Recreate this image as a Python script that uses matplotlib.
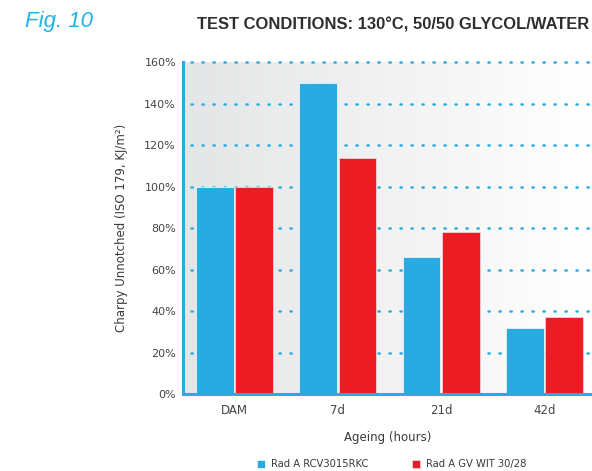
"""Charpy unnotched retention after ageing in 50/50 glycol/water at 130°C."""

import numpy as np
import matplotlib
matplotlib.use("Agg")
import matplotlib.pyplot as plt
from matplotlib.colors import LinearSegmentedColormap

# Data
categories = ["DAM", "7d", "21d", "42d"]
rcv3015rkc = [100, 150, 66, 32]
gv_wit_30_28 = [100, 114, 78, 37]
series_names = ["Rad A RCV3015RKC", "Rad A GV WIT 30/28"]
y_ticks = [0, 20, 40, 60, 80, 100, 120, 140, 160]

BLUE = "#29abe2"
RED = "#ed1c24"
TEXT = "#3a3a3a"
HEAD = ["Liberation Sans", "DejaVu Sans"]

fig = plt.figure(figsize=(5.92, 4.71), dpi=100)
ax = fig.add_axes([0.309, 0.1635, 0.691, 0.7045])

# gradient background: light grey on the left fading to white
bg = LinearSegmentedColormap.from_list("bg", ["#e4e5e6", "#ffffff"])
ax.imshow(np.linspace(0, 1, 256).reshape(1, -1), cmap=bg, aspect="auto",
          extent=(0, 1, 0, 1), transform=ax.transAxes, zorder=0)

x = np.arange(len(categories))
w = 0.365
ax.bar(x - 0.19, rcv3015rkc, w, color=BLUE, edgecolor="#e8f4fa", linewidth=0.6,
       zorder=3, label=series_names[0])
ax.bar(x + 0.19, gv_wit_30_28, w, color=RED, edgecolor="#f6d0d2", linewidth=0.6,
       zorder=3, label=series_names[1])

ax.set_xlim(-0.5, 3.46)
ax.set_ylim(0, 160)
ax.set_yticks(y_ticks)
ax.set_yticklabels([f"{v}%" for v in y_ticks])
ax.set_xticks(x)
ax.set_xticklabels(categories)

# dotted blue gridlines
for v in y_ticks[1:]:
    ax.axhline(v, xmin=0.02, color=BLUE, lw=1.8, linestyle=(0, (0.5, 3.9)),
               dash_capstyle="round", zorder=2, clip_on=False)

for s in ["top", "right"]:
    ax.spines[s].set_visible(False)
for s in ["left", "bottom"]:
    ax.spines[s].set_color(BLUE)
    ax.spines[s].set_linewidth(2.2)
    ax.spines[s].set_zorder(4)
ax.tick_params(length=0, labelsize=8, colors="#444444", pad=5)
ax.tick_params(axis="x", labelsize=8.5, pad=7)

ax.set_ylabel("Charpy Unnotched (ISO 179, KJ/m²)", fontsize=8.5, color=TEXT, labelpad=12)
ax.set_xlabel("Ageing (hours)", fontsize=8.5, color=TEXT, labelpad=10)

fig.text(0.042, 0.955, "Fig. 10", fontsize=16, style="italic", color="#1fb3e5",
         family=HEAD, va="center")
fig.text(0.333, 0.948, "TEST CONDITIONS: 130°C, 50/50 GLYCOL/WATER", fontsize=11.9,
         weight="bold", color="#2e2e2e", family=HEAD, va="center")

fig.legend(loc="center", bbox_to_anchor=(0.662, 0.014), ncol=2, frameon=False,
           fontsize=7.2, handlelength=0.8, handleheight=0.8, handletextpad=0.6,
           columnspacing=4.4, labelcolor=TEXT)

fig.savefig("out.png", dpi=100)
